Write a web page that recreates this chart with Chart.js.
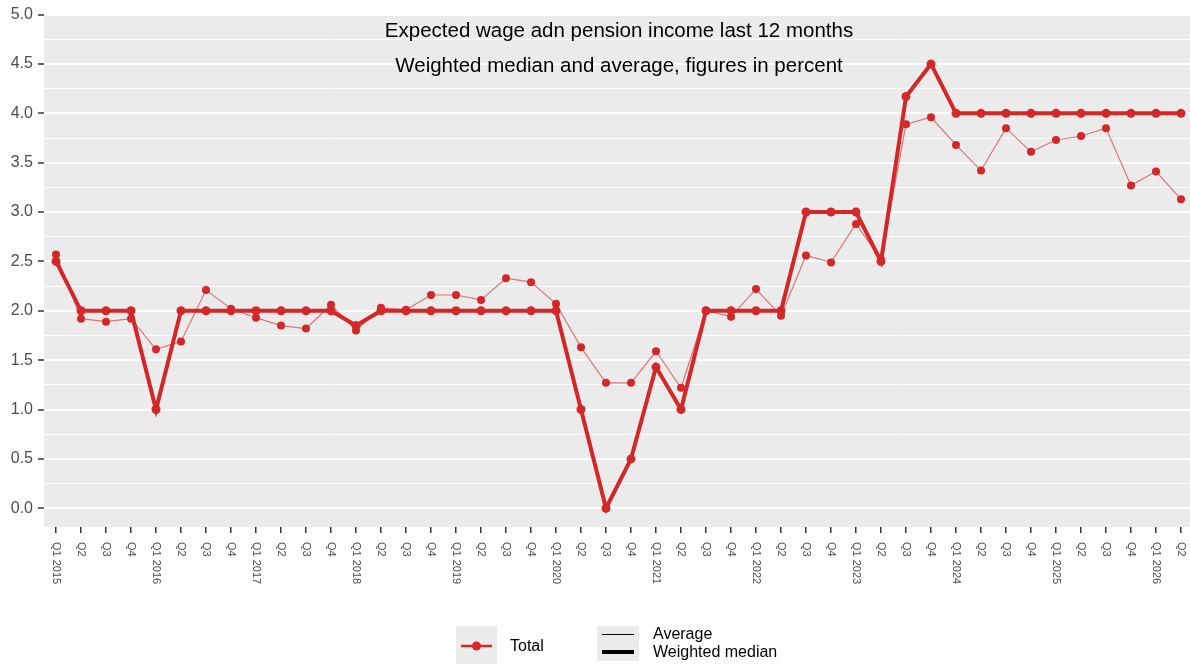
<!DOCTYPE html>
<html>
<head>
<meta charset="utf-8">
<script src="https://cdn.jsdelivr.net/npm/chart.js@4.4.1/dist/chart.umd.min.js"></script>
<style>
  body { margin: 0; background: #fff; }
</style>
</head>
<body>
<canvas id="wages" width="1190" height="664"></canvas>
<script>
var quarterLabels = ['Q1 2015', 'Q2', 'Q3', 'Q4', 'Q1 2016', 'Q2', 'Q3', 'Q4', 'Q1 2017', 'Q2', 'Q3', 'Q4',
    'Q1 2018', 'Q2', 'Q3', 'Q4', 'Q1 2019', 'Q2', 'Q3', 'Q4', 'Q1 2020', 'Q2', 'Q3', 'Q4',
    'Q1 2021', 'Q2', 'Q3', 'Q4', 'Q1 2022', 'Q2', 'Q3', 'Q4', 'Q1 2023', 'Q2', 'Q3', 'Q4',
    'Q1 2024', 'Q2', 'Q3', 'Q4', 'Q1 2025', 'Q2', 'Q3', 'Q4', 'Q1 2026', 'Q2'];

var weightedMedian = [2.5, 2.0, 2.0, 2.0, 1.0, 2.0, 2.0, 2.0, 2.0, 2.0, 2.0, 2.0,
    1.85, 2.0, 2.0, 2.0, 2.0, 2.0, 2.0, 2.0, 2.0, 1.0, 0.0, 0.5,
    1.43, 1.0, 2.0, 2.0, 2.0, 2.0, 3.0, 3.0, 3.0, 2.5, 4.17, 4.5,
    4.0, 4.0, 4.0, 4.0, 4.0, 4.0, 4.0, 4.0, 4.0, 4.0];

var average = [2.57, 1.92, 1.89, 1.92, 1.61, 1.69, 2.21, 2.02, 1.93, 1.85, 1.82, 2.06,
    1.80, 2.03, 2.01, 2.16, 2.16, 2.11, 2.33, 2.29, 2.07, 1.63, 1.27, 1.27,
    1.59, 1.22, 2.0, 1.94, 2.22, 1.95, 2.56, 2.49, 2.88, 2.52, 3.89, 3.96,
    3.68, 3.42, 3.85, 3.61, 3.73, 3.77, 3.85, 3.27, 3.41, 3.13];

var yTickValues = [0.0, 0.5, 1.0, 1.5, 2.0, 2.5, 3.0, 3.5, 4.0, 4.5, 5.0];

var titleLines = ['Expected wage adn pension income last 12 months',
    'Weighted median and average, figures in percent'];
var groupName = 'Total';
var seriesNames = ['Average', 'Weighted median'];

var red = 'rgb(211, 39, 40)';
var fontFamily = '"Liberation Sans", Arial, sans-serif';
Chart.defaults.font.family = fontFamily;

function toPoints(values) {
    return values.map(function(v, i) { return { x: i, y: v }; });
}

function isMajor(v) {
    return Math.abs(v * 2 - Math.round(v * 2)) < 1e-6;
}

// grey panel, title inside the panel, rotated quarter labels and the legend
var ggPanel = {
    id: 'ggPanel',
    beforeDraw: function(chart) {
        var a = chart.chartArea;
        var c = chart.ctx;
        c.save();
        c.fillStyle = '#EBEBEB';
        c.fillRect(a.left, a.top, a.right - a.left, a.bottom - a.top);
        c.restore();
    },
    afterDraw: function(chart) {
        var a = chart.chartArea;
        var c = chart.ctx;
        var xs = chart.scales.x;
        c.save();

        c.fillStyle = '#000';
        c.font = '20.5px ' + fontFamily;
        c.textAlign = 'center';
        c.textBaseline = 'alphabetic';
        var cx = (a.left + a.right) / 2 + 2;
        c.fillText(titleLines[0], cx, 37);
        c.fillText(titleLines[1], cx, 72);

        c.font = '11px ' + fontFamily;
        c.fillStyle = '#4D4D4D';
        c.textAlign = 'left';
        c.textBaseline = 'middle';
        quarterLabels.forEach(function(lab, i) {
            c.save();
            c.translate(xs.getPixelForValue(i), a.bottom + 15);
            c.rotate(Math.PI / 2);
            c.fillText(lab, 0, 0);
            c.restore();
        });

        // legend
        c.fillStyle = '#EBEBEB';
        c.fillRect(456, 626, 41, 38);
        c.strokeStyle = red;
        c.lineWidth = 2.5;
        c.beginPath();
        c.moveTo(461, 646);
        c.lineTo(492, 646);
        c.stroke();
        c.fillStyle = red;
        c.beginPath();
        c.arc(476.5, 646, 4.5, 0, Math.PI * 2);
        c.fill();

        c.fillStyle = '#EBEBEB';
        c.fillRect(597, 626, 42, 35);
        c.strokeStyle = '#000';
        c.lineWidth = 1;
        c.beginPath();
        c.moveTo(602, 634.5);
        c.lineTo(634, 634.5);
        c.stroke();
        c.lineWidth = 4;
        c.beginPath();
        c.moveTo(602, 652);
        c.lineTo(634, 652);
        c.stroke();

        c.fillStyle = '#000';
        c.font = '16px ' + fontFamily;
        c.textAlign = 'left';
        c.textBaseline = 'middle';
        c.fillText(groupName, 510, 647);
        c.fillText(seriesNames[0], 653, 635);
        c.fillText(seriesNames[1], 653, 653);
        c.restore();
    }
};

var wages = document.getElementById('wages').getContext('2d');

new Chart(wages, {
    type: 'line',
    data: {
        datasets: [{
            label: seriesNames[1],
            data: toPoints(weightedMedian),
            borderColor: red,
            backgroundColor: red,
            borderWidth: 4,
            pointRadius: 4.5,
            pointBorderWidth: 0,
            pointBackgroundColor: red,
            tension: 0,
            fill: false
        },
        {
            label: seriesNames[0],
            data: toPoints(average),
            borderColor: 'rgba(211, 39, 40, 0.6)',
            backgroundColor: red,
            borderWidth: 1.2,
            pointRadius: 4,
            pointBorderWidth: 0,
            pointBackgroundColor: red,
            tension: 0,
            fill: false
        }]
    },
    options: {
        responsive: false,
        animation: false,
        layout: { autoPadding: false, padding: { top: 14, bottom: 67, left: 0, right: 0 } },
        plugins: {
            legend: { display: false },
            tooltip: { enabled: false }
        },
        scales: {
            x: {
                type: 'linear',
                min: -0.48,
                max: 45.36,
                afterBuildTicks: function(s) {
                    s.ticks = quarterLabels.map(function(l, i) { return { value: i }; });
                },
                afterFit: function(s) {
                    s.height = 70;
                    s.paddingLeft = 0;
                    s.paddingRight = 0;
                },
                border: { display: false },
                grid: { drawOnChartArea: false, color: '#333', tickLength: 6, lineWidth: 1.5 },
                ticks: { display: false, autoSkip: false }
            },
            y: {
                min: -0.19,
                max: 5.0,
                afterBuildTicks: function(s) {
                    var t = [];
                    yTickValues.forEach(function(v, i) {
                        t.push({ value: v });
                        if (i < yTickValues.length - 1) t.push({ value: (v + yTickValues[i + 1]) / 2 });
                    });
                    s.ticks = t;
                },
                afterFit: function(s) { s.width = 44; },
                border: { display: false },
                grid: {
                    color: '#fff',
                    lineWidth: function(c) { return isMajor(c.tick.value) ? 2 : 1; },
                    tickColor: function(c) { return isMajor(c.tick.value) ? '#333' : 'rgba(0,0,0,0)'; },
                    tickWidth: 1.5,
                    tickLength: 6
                },
                ticks: {
                    autoSkip: false,
                    padding: 5,
                    color: '#4D4D4D',
                    font: { size: 16 },
                    callback: function(v) { return isMajor(v) ? v.toFixed(1) : ''; }
                }
            }
        }
    },
    plugins: [ggPanel]
});
</script>
</body>
</html>
